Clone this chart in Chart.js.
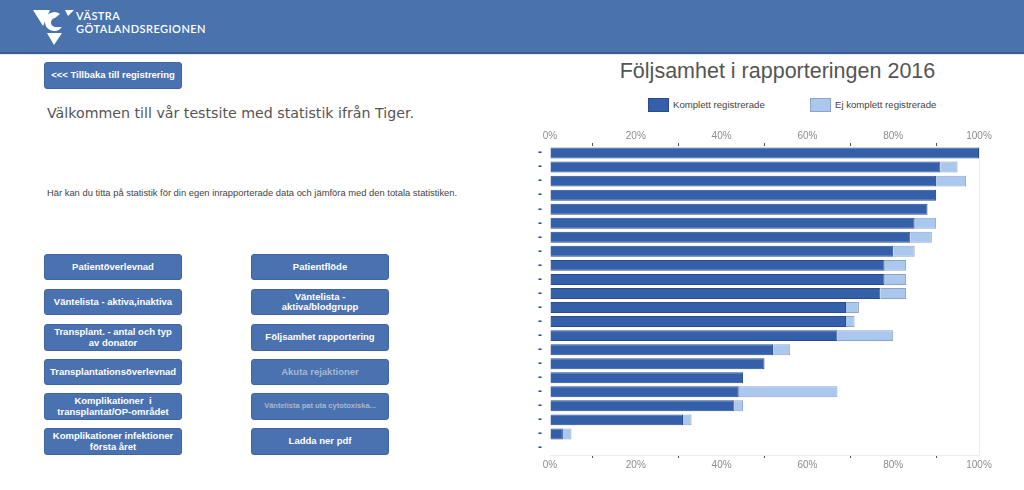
<!DOCTYPE html>
<html>
<head>
<meta charset="utf-8">
<script src="https://cdn.jsdelivr.net/npm/chart.js@4/dist/chart.umd.min.js"></script>
<style>
  html,body{margin:0;padding:0;background:#fff;width:1024px;height:490px;overflow:hidden;font-family:"Liberation Sans",Arial,sans-serif;}
  #header{position:absolute;left:0;top:0;width:1024px;height:52px;background:#4a72ad;border-bottom:2px solid #3b5d94;}
  #header .brand{position:absolute;left:76px;top:10px;color:#fff;font-family:Lato,"Open Sans",sans-serif;font-size:11px;line-height:12.5px;letter-spacing:0.45px;font-weight:600;}
  #hline{position:absolute;left:0;top:54px;width:1024px;height:1px;background:#dfeaf5;}
  .btn{position:absolute;width:138px;height:26px;background:#4a72b1;border:1px solid #3f66a3;border-radius:3px;color:#fff;font-weight:bold;font-size:9.5px;line-height:10.5px;display:flex;align-items:center;justify-content:center;text-align:center;box-sizing:border-box;padding:0 4px;}
  .btn.dis{color:#a9b7cf;}
  .btn.small{font-size:7.5px;}
  #welcome{position:absolute;left:47px;top:105px;font-family:"DejaVu Sans",Verdana,sans-serif;font-size:14.2px;color:#555;white-space:nowrap;}
  #info{position:absolute;left:47px;top:187px;font-size:9.4px;color:#444;white-space:nowrap;}
  #title{position:absolute;left:520px;width:515px;top:59px;text-align:center;font-size:21.5px;color:#555;white-space:nowrap;}
  #legend{position:absolute;left:0;top:98px;font-size:9.6px;color:#444;}
  .lgItem{position:absolute;top:0;height:14px;white-space:nowrap;}
  .lgBox{position:absolute;left:0;top:0;width:21px;height:14px;box-sizing:border-box;}
  .lgText{position:absolute;left:25px;top:1px;line-height:12px;}
  #chartWrap{position:absolute;left:520px;top:125px;width:504px;height:355px;}
</style>
</head>
<body>
<div id="header">
  <svg width="80" height="52" style="position:absolute;left:0;top:0">
    <polygon points="33,10 50,10 43,26" fill="#fff"/>
    <path d="M60,14 A9.5,9.5 0 1 0 62,27 L56,27 A4,4 0 1 1 55,18 Z" fill="#fff"/>
    <polygon points="65,10 74,10 68,16" fill="#fff"/>
    <polygon points="47,33 62,33 54,45" fill="#fff"/>
  </svg>
  <div class="brand">VÄSTRA<br>GÖTALANDSREGIONEN</div>
</div>
<div id="hline"></div>

<div class="btn" style="left:44px;top:62px;height:27px;">&lt;&lt;&lt; Tillbaka till registrering</div>
<div id="welcome">Välkommen till vår testsite med statistik ifrån Tiger.</div>
<div id="info">Här kan du titta på statistik för din egen inrapporterade data och jämföra med den totala statistiken.</div>

<div class="btn" style="left:44px;top:254px;">Patientöverlevnad</div>
<div class="btn" style="left:44px;top:289px;">Väntelista - aktiva,inaktiva</div>
<div class="btn" style="left:44px;top:324px;height:27px;">Transplant. - antal och typ av donator</div>
<div class="btn" style="left:44px;top:359px;">Transplantationsöverlevnad</div>
<div class="btn" style="left:44px;top:393px;height:27px;">Komplikationer &nbsp;i transplantat/OP-området</div>
<div class="btn" style="left:44px;top:428px;height:27px;">Komplikationer infektioner första året</div>

<div class="btn" style="left:251px;top:254px;">Patientflöde</div>
<div class="btn" style="left:251px;top:289px;">Väntelista -<br>aktiva/blodgrupp</div>
<div class="btn" style="left:251px;top:324px;height:27px;">Följsamhet rapportering</div>
<div class="btn dis" style="left:251px;top:359px;">Akuta rejaktioner</div>
<div class="btn dis small" style="left:251px;top:393px;height:27px;">Väntelista pat uta cytotoxiska...</div>
<div class="btn" style="left:251px;top:428px;height:27px;">Ladda ner pdf</div>

<div id="title">Följsamhet i rapporteringen 2016</div>
<div id="legend"></div>
<div id="chartWrap"><canvas id="c"></canvas></div>

<script>
const categories = ['-','-','-','-','-','-','-','-','-','-','-','-','-','-','-','-','-','-','-','-','-','-'];
const komplett   = [100, 91, 90, 90, 88, 85, 84, 80, 78, 78, 77, 69, 69, 67, 52, 50, 45, 44, 43, 31, 3, 0];
const ejKomplett = [0, 4, 7, 0, 0, 5, 5, 5, 5, 5, 6, 3, 2, 13, 4, 0, 0, 23, 2, 2, 2, 0];
const seriesNames = ['Komplett registrerade', 'Ej komplett registrerade'];
const tickLabels = {0:'0%', 20:'20%', 40:'40%', 60:'60%', 80:'80%', 100:'100%'};

const darkFill = '#3460aa', darkBorder = '#2a4c8c';
const lightFill = '#aac8ee', lightBorder = '#8ea4c6';

const tickCallback = v => (tickLabels[v] !== undefined ? tickLabels[v] : '');
const tickMarkColor = ctx => (ctx.tick && ctx.tick.value % 20 === 10 ? '#555' : 'rgba(0,0,0,0)');

const axisCommon = {
  type: 'linear', min: 0, max: 100, stacked: true,
  ticks: { stepSize: 10, autoSkip: false, maxRotation: 0, padding: 1, color: '#8c8c8c',
           font: { family: '"Liberation Sans", Arial, sans-serif', size: 10 }, callback: tickCallback },
};

const chart = new Chart(document.getElementById('c'), {
  type: 'bar',
  data: {
    labels: categories,
    datasets: [
      { label: seriesNames[0], data: komplett, backgroundColor: darkFill, borderColor: darkBorder, borderWidth: 1, borderSkipped: 'start' },
      { label: seriesNames[1], data: ejKomplett, backgroundColor: lightFill, borderColor: lightBorder, borderWidth: 1, borderSkipped: 'start' }
    ]
  },
  options: {
    indexAxis: 'y',
    responsive: true,
    maintainAspectRatio: false,
    animation: false,
    datasets: { bar: { categoryPercentage: 1, barPercentage: 0.78 } },
    layout: { padding: { left: 0, right: 45, top: 4, bottom: 8 } },
    plugins: { legend: { display: false }, title: { display: false }, tooltip: { enabled: false } },
    scales: {
      x: Object.assign({}, axisCommon, {
        position: 'bottom',
        grid: { drawOnChartArea: true, drawTicks: true, tickLength: 3,
                color: ctx => (ctx.tick && ctx.tick.value === 100 ? '#ececec' : 'rgba(0,0,0,0)'),
                tickColor: tickMarkColor },
        border: { display: true, color: '#ececec' }
      }),
      x2: Object.assign({}, axisCommon, {
        position: 'top', stacked: false,
        grid: { drawOnChartArea: false, drawTicks: true, tickLength: 3, tickColor: tickMarkColor },
        border: { display: false }
      }),
      y: {
        stacked: true,
        grid: { display: false, drawTicks: false },
        border: { display: false },
        ticks: { autoSkip: false, padding: 8, color: '#2e4f8f', font: { family: '"Liberation Sans", Arial, sans-serif', size: 12, weight: 'bold' } },
        afterFit: s => { s.width = 30; }
      }
    }
  }
});

// HTML legend built from the chart's datasets
const legend = document.getElementById('legend');
const legendX = [648, 810];
chart.data.datasets.forEach((ds, i) => {
  const item = document.createElement('div');
  item.className = 'lgItem';
  item.style.left = legendX[i] + 'px';
  const box = document.createElement('div');
  box.className = 'lgBox';
  box.style.background = ds.backgroundColor;
  box.style.border = '1px solid ' + ds.borderColor;
  const t = document.createElement('div');
  t.className = 'lgText';
  t.textContent = ds.label;
  item.appendChild(box); item.appendChild(t);
  legend.appendChild(item);
});
</script>
</body>
</html>
